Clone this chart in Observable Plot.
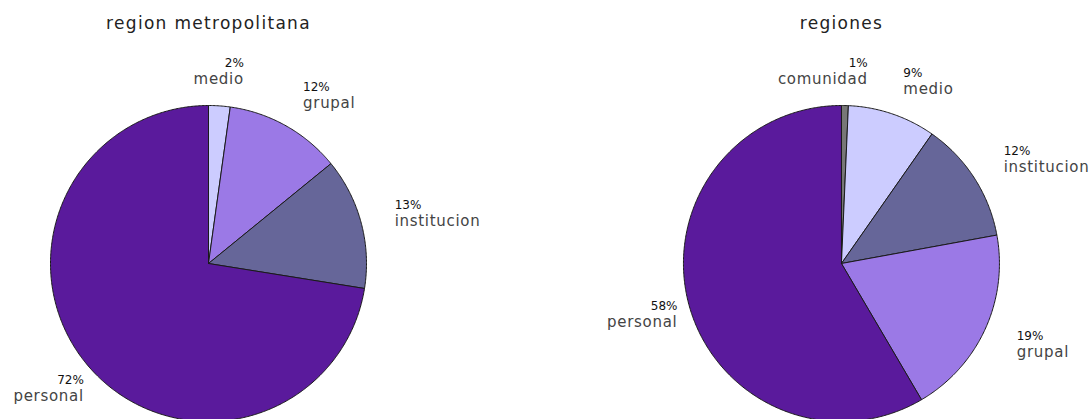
<!DOCTYPE html>
<html>
<head>
<meta charset="utf-8">
<script src="https://cdn.jsdelivr.net/npm/d3@7"></script>
<script src="https://cdn.jsdelivr.net/npm/@observablehq/plot@0.6"></script>
<style>
  html, body { margin: 0; padding: 0; background: #fff; }
  #chart svg { display: block; }
  #chart g[font-size="17"] text { letter-spacing: 1.3px; }
  #chart g[font-size="15"] text { letter-spacing: 0.7px; }
</style>
</head>
<body>
<div id="chart"></div>
<script>
// ---- data ----
const titles = ["region metropolitana", "regiones"];
const metroCats = ["medio", "grupal", "institucion", "personal"];
const metroVals = [2.2, 11.9, 13.4, 72.4];
const regionCats = ["comunidad", "medio", "institucion", "grupal", "personal"];
const regionVals = [0.7, 9.0, 12.4, 19.4, 58.4];
const colorDomain = ["comunidad", "medio", "grupal", "institucion", "personal"];
const colorRange = ["#777777", "#ccccff", "#9b79e6", "#666699", "#5a1a9c"];

// ---- layout (radius units) ----
const W = 1091, H = 419;
const Rpx = 158;                // pie radius in px
const centers = [0, 4.006];     // pie centers along x in radius units
const xDomain = [-208 / Rpx, (W - 208) / Rpx];
const yDomain = [-(H - 263) / Rpx, 263 / Rpx];
const titleY = (263 - 23) / Rpx;
const labelR = 1.22;

const wedges = [];
const labels = [];
const pies = [
  {cats: metroCats, vals: metroVals},
  {cats: regionCats, vals: regionVals}
];
pies.forEach((p, pi) => {
  const cx = centers[pi], cy = 0;
  const total = d3.sum(p.vals);
  let acc = 0;
  p.vals.forEach((v, i) => {
    const a0 = acc / total * 2 * Math.PI;
    acc += v;
    const a1 = acc / total * 2 * Math.PI;
    const key = `${pi}-${p.cats[i]}`;
    wedges.push({key, cat: p.cats[i], x: cx, y: cy});
    const n = Math.max(2, Math.ceil((a1 - a0) / (Math.PI / 360)));
    for (let k = 0; k <= n; k++) {
      const a = a0 + (a1 - a0) * k / n;
      wedges.push({key, cat: p.cats[i], x: cx + Math.sin(a), y: cy + Math.cos(a)});
    }
    wedges.push({key, cat: p.cats[i], x: cx, y: cy});
    const m = (a0 + a1) / 2;
    const right = Math.sin(m) > 0.1;
    labels.push({
      x: cx + labelR * Math.sin(m),
      y: cy + labelR * Math.cos(m),
      pct: Math.round(v) + "%",
      name: p.cats[i],
      anchor: right ? "start" : "end"
    });
  });
});
const titleRows = titles.map((t, i) => ({x: centers[i], y: titleY, t}));
const startLabels = labels.filter(d => d.anchor === "start");
const endLabels = labels.filter(d => d.anchor === "end");

const font = "DejaVu Sans, sans-serif";
const textMarks = (data, anchor, dx) => [
  Plot.text(data, {x: "x", y: "y", text: "pct", textAnchor: anchor, dx, dy: -8,
    fontSize: 12, fill: "#111", fontFamily: font}),
  Plot.text(data, {x: "x", y: "y", text: "name", textAnchor: anchor, dx, dy: 8,
    fontSize: 15, fill: "#444", fontFamily: font})
];

const chart = Plot.plot({
  width: W,
  height: H,
  margin: 0,
  x: {domain: xDomain, axis: null},
  y: {domain: yDomain, axis: null},
  color: {domain: colorDomain, range: colorRange},
  style: {background: "#fff", fontFamily: font},
  marks: [
    Plot.line(wedges, {x: "x", y: "y", z: "key", fill: "cat", stroke: "#1a1a1a",
      strokeWidth: 1, strokeLinejoin: "round", curve: "linear"}),
    ...textMarks(startLabels, "start", 0),
    ...textMarks(endLabels, "end", 22),
    Plot.text(titleRows, {x: "x", y: "y", text: "t", fontSize: 17, fill: "#222",
      fontFamily: font})
  ]
});
document.getElementById("chart").appendChild(chart);
</script>
</body>
</html>
